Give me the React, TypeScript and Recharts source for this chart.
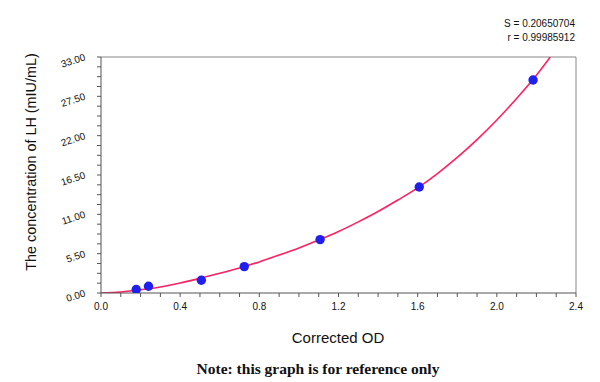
import React from "react";
import { ComposedChart, Line, Scatter, XAxis, YAxis, ReferenceLine } from "recharts";

const standardOD = [0.178, 0.24, 0.507, 0.724, 1.107, 1.608, 2.183];
const standardConc = [0.48, 0.94, 1.78, 3.69, 7.47, 14.82, 29.78];

const curveOD = [0, 0.1, 0.2, 0.3, 0.4, 0.5, 0.6, 0.7, 0.8, 0.9, 1.0, 1.1, 1.2, 1.3, 1.4, 1.5, 1.6, 1.7, 1.8, 1.9, 2.0, 2.1, 2.2, 2.27];
const curveConc = [0, 0.15, 0.45, 0.85, 1.4, 2.05, 2.75, 3.5, 4.35, 5.3, 6.3, 7.4, 8.6, 9.95, 11.4, 13.0, 14.7, 16.7, 18.95, 21.45, 24.2, 27.2, 30.45, 33.0];

const xTicks = [0, 0.1, 0.2, 0.3, 0.4, 0.5, 0.6, 0.7, 0.8, 0.9, 1.0, 1.1, 1.2, 1.3, 1.4, 1.5, 1.6, 1.7, 1.8, 1.9, 2.0, 2.1, 2.2, 2.3, 2.4];
const yTicks = [0, 1.375, 2.75, 4.125, 5.5, 6.875, 8.25, 9.625, 11, 12.375, 13.75, 15.125, 16.5, 17.875, 19.25, 20.625, 22, 23.375, 24.75, 26.125, 27.5, 28.875, 30.25, 31.625, 33];

const xTitle = "Corrected OD";
const yTitle = "The concentration of LH (mIU/mL)";
const statS = "S = 0.20650704";
const statR = "r = 0.99985912";
const note = "Note: this graph is for reference only";

const points = standardOD.map((x, i) => ({ x, y: standardConc[i] }));
const curve = curveOD.map((x, i) => ({ x, y: curveConc[i] }));

const isMultiple = (v: number, step: number) => Math.abs(v / step - Math.round(v / step)) < 1e-6;

const FONT = "Arial, 'Liberation Sans', sans-serif";

const XTick = (props: any) => {
  const { x, y, payload } = props;
  if (!isMultiple(payload.value, 0.4)) return null;
  return (
    <text x={x} y={y + 11} textAnchor="middle" fontSize={10} fontFamily={FONT} fill="#111">
      {payload.value.toFixed(1)}
    </text>
  );
};

const YTick = (props: any) => {
  const { y, payload } = props;
  if (!isMultiple(payload.value, 5.5)) return null;
  const ax = 86;
  const ay = y + 3;
  return (
    <text x={ax} y={ay} textAnchor="end" fontSize={10} fontFamily={FONT} fill="#111" transform={`rotate(-18, ${ax}, ${ay})`}>
      {payload.value.toFixed(2)}
    </text>
  );
};

const Dot = (props: any) => <circle cx={props.cx} cy={props.cy} r={4.7} fill="#1f1fee" />;

export default function App() {
  return (
    <div style={{ position: "absolute", left: 0, top: 0, width: 600, height: 382, background: "#fff" }}>
      <ComposedChart width={600} height={382} margin={{ top: 57, right: 24, bottom: 59, left: 31 }}>
        <XAxis
          dataKey="x"
          type="number"
          domain={[0, 2.4]}
          ticks={xTicks}
          interval={0}
          tick={<XTick />}
          tickSize={4}
          height={30}
          stroke="#555"
          allowDataOverflow
        />
        <YAxis
          dataKey="y"
          type="number"
          domain={[0, 33]}
          ticks={yTicks}
          interval={0}
          tick={<YTick />}
          tickSize={4}
          width={70}
          stroke="#555"
          allowDataOverflow
        />
        <ReferenceLine y={33} stroke="#888" strokeWidth={1} />
        <ReferenceLine x={2.4} stroke="#888" strokeWidth={1} />
        <Scatter data={points} dataKey="y" shape={<Dot />} isAnimationActive={false} />
        <Line data={curve} dataKey="y" type="monotone" stroke="#ff2060" strokeWidth={1.6} dot={false} activeDot={false} isAnimationActive={false} />
      </ComposedChart>
      <div style={{ position: "absolute", right: 25, top: 17, fontFamily: FONT, fontSize: 10, lineHeight: "14px", textAlign: "right", color: "#111" }}>
        <div>{statS}</div>
        <div>{statR}</div>
      </div>
      <div style={{ position: "absolute", left: 338, top: 337, transform: "translate(-50%, -50%)", fontFamily: FONT, fontSize: 15, color: "#111", whiteSpace: "nowrap" }}>
        {xTitle}
      </div>
      <div style={{ position: "absolute", left: 31, top: 161.5, transform: "translate(-50%, -50%) rotate(-90deg)", fontFamily: FONT, fontSize: 14.4, color: "#111", whiteSpace: "nowrap" }}>
        {yTitle}
      </div>
      <div style={{ position: "absolute", left: 318, top: 369, transform: "translate(-50%, -50%)", fontFamily: "'Liberation Serif', 'Times New Roman', serif", fontWeight: "bold", fontSize: 15.5, color: "#111", whiteSpace: "nowrap" }}>
        {note}
      </div>
    </div>
  );
}
